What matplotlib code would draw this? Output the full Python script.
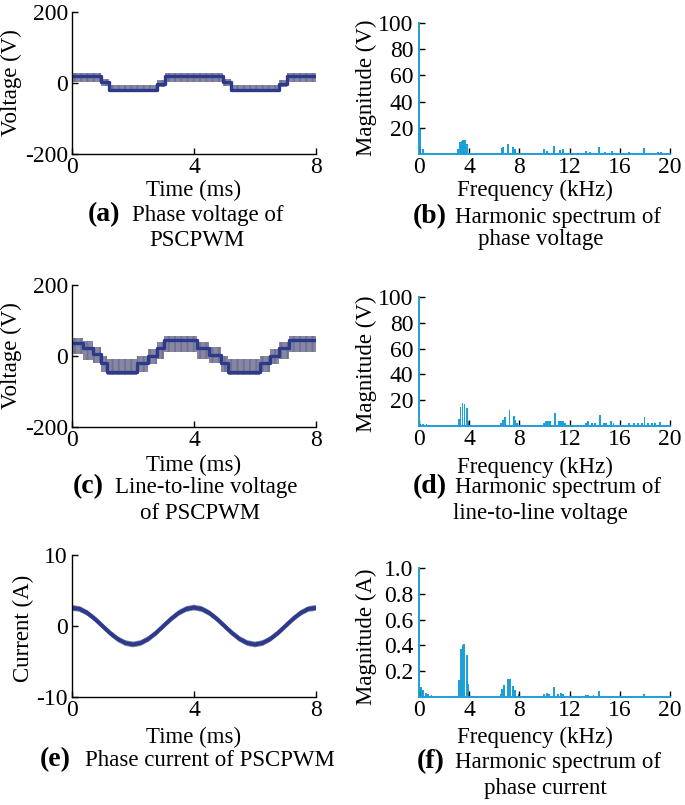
import matplotlib
matplotlib.use("Agg")
import matplotlib.pyplot as plt
import numpy as np

plt.rcParams['font.family'] = ['Liberation Serif', 'DejaVu Serif']
plt.rcParams['axes.unicode_minus'] = False
plt.rcParams['hatch.linewidth'] = 0.6

# ---------------- data ----------------
# (a) phase voltage: staircase breakpoints (ms), level and ripple band (V)
pv_t = [0.0, 0.95, 1.2, 2.8, 3.05, 4.95, 5.2, 6.8, 7.05, 8.0]
pv_v = [20, 2, -19, -2, 20, 2, -19, -2, 20, 20]
pv_lo = [4, -8, -26, -12, 4, -8, -26, -12, 4, 4]
pv_hi = [27, 10, -5, 8, 27, 10, -5, 8, 27, 27]

# (c) line-to-line voltage
ll_t = [0.0, 0.35, 0.7, 0.95, 1.15, 2.12, 2.5, 2.78, 3.0, 4.1, 4.5, 4.9, 5.1, 6.15, 6.5, 6.8, 7.1, 8.0]
ll_v = [38, 22, 6, -20, -44, -21, -1, 22, 45, 22, 4, -20, -44, -20, 0, 22, 46, 46]
ll_lo = [5, -10, -20, -45, -53, -45, -22, -8, 12, -8, -20, -45, -53, -45, -22, -8, 12, 12]
ll_hi = [50, 42, 25, 0, -9, 0, 20, 40, 56, 40, 25, 0, -9, 0, 20, 40, 56, 56]

# (e) phase current, sampled every 0.25 ms
cur_t = [0.0, 0.25, 0.5, 0.75, 1.0, 1.25, 1.5, 1.75, 2.0, 2.25, 2.5, 2.75, 3.0, 3.25, 3.5, 3.75,
         4.0, 4.25, 4.5, 4.75, 5.0, 5.25, 5.5, 5.75, 6.0, 6.25, 6.5, 6.75, 7.0, 7.25, 7.5, 7.75, 8.0]
cur_i = [2.55, 2.4, 1.84, 1.0, 0.0, -1.0, -1.84, -2.4, -2.6, -2.4, -1.84, -1.0, 0.0, 1.0, 1.84, 2.4,
         2.6, 2.4, 1.84, 1.0, 0.0, -1.0, -1.84, -2.4, -2.6, -2.4, -1.84, -1.0, 0.0, 1.0, 1.84, 2.4, 2.55]
cur_ripple = 0.4

# (b) harmonic spectrum of phase voltage (kHz, V)
hb_f = [0.05, 0.35, 3.13, 3.27, 3.4, 3.53, 3.67, 3.8, 6.59, 6.72, 7.12, 7.52, 7.65,
        9.96, 10.17, 10.76, 11.24, 11.45, 13.3, 13.6, 14.37, 14.82, 15.35,
        16.76, 17.93, 19.07, 19.26]
hb_m = [20, 3.6, 4, 9, 10, 10.5, 11, 8, 4.3, 5.6, 7.7, 5.6, 3.6,
        3.6, 2.5, 6.4, 3, 3.8, 2.5, 1.8, 5.6, 1.8, 2.5,
        1.8, 4.8, 1.8, 1.8]

# (d) harmonic spectrum of line-to-line voltage (kHz, V)
hd_f = [0.1, 0.35, 0.6, 0.85, 3.2, 3.31, 3.47, 3.63, 3.79, 3.98,
        6.55, 6.68, 6.84, 7.21, 7.55, 7.69, 7.82,
        9.94, 10.15, 10.28, 10.44, 10.81, 11.13, 11.29, 11.45, 11.66,
        13.3, 13.47, 13.78, 14.05, 14.39, 14.71, 14.9, 15.32, 15.5,
        16.7, 17.1, 17.44, 17.76, 17.97, 18.28, 18.55, 18.82, 19.21]
hd_m = [1.8, 1.5, 1.2, 1.0, 5.2, 15, 18, 17, 14, 4,
        2.6, 5, 7.2, 12.4, 7.8, 4.7, 2,
        2, 4, 3.5, 4, 10, 4, 3.5, 4, 2,
        2, 3.5, 2, 2, 8.5, 2, 2, 3.5, 2,
        2, 2, 2, 2, 7, 2, 2, 2, 3]

# (f) harmonic spectrum of phase current (kHz, A)
hf_f = [0.16, 0.29, 0.56, 0.74, 1.0, 1.2, 3.21, 3.32, 3.48, 3.59, 3.8, 3.93, 4.2,
        6.56, 6.64, 6.8, 7.12, 7.22, 7.52, 7.68, 8.0,
        9.96, 10.17, 10.39, 10.76, 11.1, 11.29, 11.45,
        13.3, 13.5, 13.9, 14.37, 14.7, 15.3, 16.76, 17.93, 19.15]
hf_m = [0.075, 0.057, 0.034, 0.026, 0.013, 0.008, 0.13, 0.37, 0.40, 0.41, 0.325, 0.10, 0.006,
        0.026, 0.06, 0.09, 0.143, 0.138, 0.083, 0.052, 0.026,
        0.02, 0.031, 0.026, 0.078, 0.026, 0.031, 0.02,
        0.013, 0.013, 0.013, 0.047, 0.01, 0.01, 0.008, 0.026, 0.008]

time_ticks = [0, 4, 8]
freq_ticks = [0, 4, 8, 12, 16, 20]

# ---------------- style ----------------
W, H = 685, 805
LINE = '#2c3a8e'
BAND = '#d2d2e4'
STRIPE = '#5e5e80'
BAR = '#1e9fd8'
TICKFS = 17
LABFS = 16.5

fig = plt.figure(figsize=(W / 100, H / 100), dpi=100)


def add_ax(l, r, t, b):
    return fig.add_axes([l / W, 1 - b / H, (r - l) / W, (b - t) / H])


def ftext(x, y, s, **kw):
    kw.setdefault('fontsize', LABFS)
    fig.text(x / W, 1 - y / H, s, **kw)


def style(ax, spine_color='black'):
    for s in ['top', 'right']:
        ax.spines[s].set_visible(False)
    for s in ['left', 'bottom']:
        ax.spines[s].set_color(spine_color)
        ax.spines[s].set_linewidth(1.4 if spine_color != 'black' else 1.0)
    ax.tick_params(direction='in', length=4, width=1, labelsize=TICKFS, colors='black')


def time_axes(ax, ylim, yticks):
    style(ax)
    ax.set_xlim(0, 8)
    ax.set_ylim(*ylim)
    ax.set_xticks(time_ticks)
    ax.set_xticklabels([str(v) for v in time_ticks])
    ax.set_yticks(yticks)
    ax.set_yticklabels([str(v) for v in yticks])
    ax.tick_params(axis='y', pad=3)
    ax.tick_params(axis='x', pad=2)


def spec_axes(ax, ymax, yticks, ylabels, f, m):
    style(ax, BAR)
    ax.bar(f, m, width=0.15, color=BAR, linewidth=0)
    ax.set_xlim(0, 20)
    ax.set_ylim(0, ymax)
    ax.set_xticks(freq_ticks)
    ax.set_xticklabels([str(v) for v in freq_ticks])
    ax.set_yticks(yticks)
    ax.set_yticklabels(ylabels)
    ax.tick_params(axis='y', pad=4)
    ax.tick_params(axis='x', pad=2)


# (a)
ax = add_ax(72, 316, 12, 154)
ax.fill_between(pv_t, pv_lo, pv_hi, step='post', facecolor=BAND, edgecolor=STRIPE,
                hatch='|' * 14, linewidth=0)
ax.step(pv_t, pv_v, where='post', color=LINE, lw=2.4)
time_axes(ax, (-200, 200), [-200, 0, 200])

# (c)
ax = add_ax(72, 316, 285, 427)
ax.fill_between(ll_t, ll_lo, ll_hi, step='post', facecolor=BAND, edgecolor=STRIPE,
                hatch='|' * 14, linewidth=0)
ax.step(ll_t, ll_v, where='post', color=LINE, lw=2.4)
time_axes(ax, (-200, 200), [-200, 0, 200])

# (e)
ax = add_ax(72, 316, 555, 697)
cur_lo = [v - cur_ripple for v in cur_i]
cur_hi = [v + cur_ripple for v in cur_i]
ax.fill_between(cur_t, cur_lo, cur_hi, facecolor=BAND, edgecolor=STRIPE,
                hatch='|' * 14, linewidth=0)
ax.plot(cur_t, cur_i, color=LINE, lw=2.8)
time_axes(ax, (-10, 10), [-10, 0, 10])

# spectra
ax = add_ax(419, 670, 23, 154)
spec_axes(ax, 100, [20, 40, 60, 80, 100], ['20', '40', '60', '80', '100'], hb_f, hb_m)
ax = add_ax(419, 670, 297, 426)
spec_axes(ax, 100, [20, 40, 60, 80, 100], ['20', '40', '60', '80', '100'], hd_f, hd_m)
ax = add_ax(419, 670, 568, 697)
spec_axes(ax, 1.0, [0.2, 0.4, 0.6, 0.8, 1.0], ['0.2', '0.4', '0.6', '0.8', '1.0'], hf_f, hf_m)

# axis labels
for y in (190, 465, 737):
    ftext(194, y, 'Time (ms)', ha='center', va='center')
for y in (190, 467, 737):
    ftext(535, y, 'Frequency (kHz)', ha='center', va='center')
ftext(11, 83, 'Voltage (V)', rotation=90, ha='center', va='center')
ftext(11, 356, 'Voltage (V)', rotation=90, ha='center', va='center')
ftext(23, 628, 'Current (A)', rotation=90, ha='center', va='center')
ftext(366, 88, 'Magnitude (V)', rotation=90, ha='center', va='center')
ftext(366, 364, 'Magnitude (V)', rotation=90, ha='center', va='center')
ftext(366, 637, 'Magnitude (A)', rotation=90, ha='center', va='center')

# captions
caps = [
    (88, 132, 215, '(a)', 'Phase voltage of', 197, 240, 'PSCPWM'),
    (413, 455, 217, '(b)', 'Harmonic spectrum of', 541, 240, 'phase voltage'),
    (73, 115, 487, '(c)', 'Line-to-line voltage', 200, 513, 'of PSCPWM'),
    (413, 455, 487, '(d)', 'Harmonic spectrum of', 540, 513, 'line-to-line voltage'),
    (40, 85, 760, '(e)', 'Phase current of PSCPWM', None, None, None),
    (417, 455, 762, '(f)', 'Harmonic spectrum of', 545, 788, 'phase current'),
]
for bx, tx, y, lab, txt, x2, y2, txt2 in caps:
    ftext(bx, y, lab, ha='left', va='center', fontweight='bold', fontsize=20)
    ftext(tx, y, txt, ha='left', va='center')
    if txt2:
        ftext(x2, y2, txt2, ha='center', va='center')

fig.savefig('out.png', dpi=100)
